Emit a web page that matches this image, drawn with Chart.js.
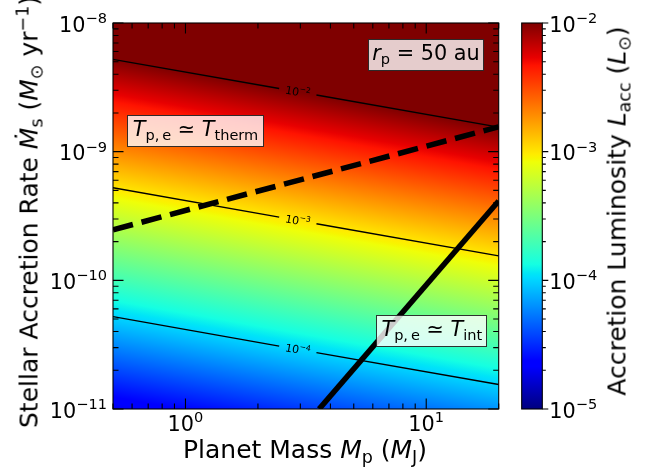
<!DOCTYPE html>
<html>
<head>
<meta charset="utf-8">
<script src="https://cdn.jsdelivr.net/npm/chart.js@4.4.1/dist/chart.umd.min.js"></script>
<style>
  body { margin: 0; background: #fff; }
  #wrap { position: relative; width: 651px; height: 470px; font-family: 'DejaVu Sans', sans-serif; }
  canvas { position: absolute; left: 0; top: 0; }
  .lab { position: absolute; white-space: nowrap; font-size: 25px; line-height: 1; color: #000; transform: translate(-50%, -50%); }
  .rot { transform: translate(-50%, -50%) rotate(-90deg); }
  .box { position: absolute; box-sizing: border-box; background: rgba(255,255,255,0.8); border: 1.3px solid rgba(0,0,0,0.8);
         font-size: 20.8px; line-height: 1; display: flex; align-items: center; justify-content: center; white-space: nowrap; color: #000; }
  .box span { display: inline-block; margin-top: -3px; }
  sub { font-size: 70%; vertical-align: -0.3em; line-height: 0; }
  sup { font-size: 70%; vertical-align: 0.5em; line-height: 0; }
</style>
</head>
<body>
<div id="wrap">
  <canvas id="chart" width="651" height="470"></canvas>
  <div class="lab rot" style="left:29px; top:212px;">Stellar Accretion Rate <i>M&#775;</i><sub>s</sub> (<i>M</i><sub>&#8857;</sub> yr<sup>&minus;1</sup>)</div>
  <div class="lab" style="left:305px; top:449px;">Planet Mass <i>M</i><sub>p</sub> (<i>M</i><sub>J</sub>)</div>
  <div class="lab rot" style="left:617px; top:211px;">Accretion Luminosity <i>L</i><sub>acc</sub> (<i>L</i><sub>&#8857;</sub>)</div>
  <div class="box" style="left:367.7px; top:39px; width:116.6px; height:32.3px;"><span><i>r</i><sub>p</sub>&nbsp;=&nbsp;50 au</span></div>
  <div class="box" style="left:126.7px; top:115px; width:137.6px; height:32px;"><span><i>T</i><sub>p,&thinsp;e</sub>&nbsp;&#8771;&nbsp;<i>T</i><sub>therm</sub></span></div>
  <div class="box" style="left:376.3px; top:315px; width:111px; height:32.3px;"><span><i>T</i><sub>p,&thinsp;e</sub>&nbsp;&#8771;&nbsp;<i>T</i><sub>int</sub></span></div>
</div>
<script>
// planet mass (M_J) where each contour line is read: left edge, label gap start, gap end, right edge
const contourMp = [0.5, 2.45, 3.5, 20];
const contourLevels = [1e-2, 1e-3, 1e-4];
// stellar accretion rate (Msun/yr) along each contour at the masses above
const contourRate = [
  [5.22e-9, 3.10e-9, 2.76e-9, 1.55e-9],
  [5.25e-10, 3.10e-10, 2.75e-10, 1.55e-10],
  [5.22e-11, 3.08e-11, 2.74e-11, 1.55e-11]
];
// T_p,e ~ T_therm (dashed) and T_p,e ~ T_int (solid)
const thermMp = [0.5, 20];
const thermRate = [2.47e-10, 1.56e-9];
const intMp = [3.59, 20];
const intRate = [1e-11, 4.14e-10];

const xMajorTicks = [1, 10];
const yMajorTicks = [1e-11, 1e-10, 1e-9, 1e-8];
const cbMajorTicks = [1e-5, 1e-4, 1e-3, 1e-2];
const xRange = [0.5, 20];
const yRange = [1e-11, 1e-8];
const cbRange = [1e-5, 1e-2];

// matplotlib jet
const jetStops = [[0,[0,0,127]],[0.11,[0,0,255]],[0.125,[0,0,255]],[0.34,[0,219,255]],[0.35,[0,229,247]],
  [0.375,[21,255,226]],[0.64,[239,255,8]],[0.65,[247,245,0]],[0.66,[255,236,0]],[0.89,[255,19,0]],
  [0.91,[232,0,0]],[1,[127,0,0]]];

const FONT = "'DejaVu Sans', sans-serif";
const cbLeft = 521.7, cbRight = 542.3;

function minorTicks(min, max) {
  const out = [];
  for (let e = Math.floor(Math.log10(min)); e <= Math.ceil(Math.log10(max)); e++) {
    for (let k = 2; k <= 9; k++) {
      const v = k * Math.pow(10, e);
      if (v >= min * 0.999 && v <= max * 1.001) out.push(v);
    }
  }
  return out;
}

function jetGradient(ctx, x0, y0, x1, y1) {
  const g = ctx.createLinearGradient(x0, y0, x1, y1);
  jetStops.forEach(([t, c]) => g.addColorStop(1 - t, `rgb(${c.join(',')})`));
  return g;
}

function expText(v) {
  const e = Math.round(Math.log10(v));
  return e < 0 ? '\u2212' + (-e) : String(e);
}

// draws "10^e" with y as the baseline of the "10"
function drawPow(ctx, v, x, y, size, align) {
  const exp = expText(v);
  const es = size * 0.7;
  ctx.font = `${size}px ${FONT}`;
  const wb = ctx.measureText('10').width;
  ctx.font = `${es}px ${FONT}`;
  const we = ctx.measureText(exp).width;
  const w = wb + we;
  const x0 = align === 'right' ? x - w : align === 'center' ? x - w / 2 : x;
  ctx.textAlign = 'left';
  ctx.textBaseline = 'alphabetic';
  ctx.fillStyle = '#000';
  ctx.font = `${size}px ${FONT}`;
  ctx.fillText('10', x0, y);
  ctx.font = `${es}px ${FONT}`;
  ctx.fillText(exp, x0 + wb, y - size * 0.42);
}

const heatmap = {
  id: 'heatmap',
  beforeDatasetsDraw(chart) {
    const {ctx, chartArea: area} = chart;
    const xs = chart.scales.x, ys = chart.scales.y;
    const n = contourRate.length - 1;
    const px = (m, r) => ({x: xs.getPixelForValue(m), y: ys.getPixelForValue(r)});
    const a = px(contourMp[0], contourRate[0][0]);
    const b = px(contourMp[3], contourRate[0][3]);
    const c = px(contourMp[0], contourRate[n][0]);
    let dx = b.x - a.x, dy = b.y - a.y;
    const len = Math.hypot(dx, dy);
    dx /= len; dy /= len;
    const nx = -dy, ny = dx;
    const h = (c.x - a.x) * nx + (c.y - a.y) * ny;
    const lvTop = Math.log10(contourLevels[0]), lvBot = Math.log10(contourLevels[n]);
    const perDec = h / (lvTop - lvBot);
    const d0 = perDec * (lvTop - Math.log10(cbRange[1]));
    const d1 = perDec * (lvTop - Math.log10(cbRange[0]));
    ctx.save();
    ctx.fillStyle = jetGradient(ctx, a.x + nx * d0, a.y + ny * d0, a.x + nx * d1, a.y + ny * d1);
    ctx.fillRect(area.left, area.top, area.right - area.left, area.bottom - area.top);
    ctx.restore();
  },
  afterDatasetsDraw(chart) {
    const {ctx, chartArea: area} = chart;
    const xs = chart.scales.x, ys = chart.scales.y, cb = chart.scales.cb;
    ctx.save();

    // contour labels
    contourLevels.forEach((lv, i) => {
      const r = contourRate[i];
      const a = {x: xs.getPixelForValue(contourMp[0]), y: ys.getPixelForValue(r[0])};
      const b = {x: xs.getPixelForValue(contourMp[3]), y: ys.getPixelForValue(r[3])};
      const cx = xs.getPixelForValue(Math.sqrt(contourMp[1] * contourMp[2]));
      const cy = ys.getPixelForValue(Math.sqrt(r[1] * r[2]));
      ctx.save();
      ctx.translate(cx, cy);
      ctx.rotate(Math.atan2(b.y - a.y, b.x - a.x));
      drawPow(ctx, lv, 0, 4, 11, 'center');
      ctx.restore();
    });

    // frame and inward ticks
    ctx.strokeStyle = '#000';
    ctx.lineWidth = 1.1;
    ctx.strokeRect(area.left, area.top, area.right - area.left, area.bottom - area.top);
    const xt = xMajorTicks.map(v => [v, 10.5]).concat(minorTicks(xRange[0], xRange[1]).map(v => [v, 5.5]));
    const yt = yMajorTicks.map(v => [v, 10.5]).concat(minorTicks(yRange[0], yRange[1]).map(v => [v, 5.5]));
    ctx.beginPath();
    xt.forEach(([v, L]) => {
      const x = xs.getPixelForValue(v);
      ctx.moveTo(x, area.bottom); ctx.lineTo(x, area.bottom - L);
      ctx.moveTo(x, area.top); ctx.lineTo(x, area.top + L);
    });
    yt.forEach(([v, L]) => {
      const y = ys.getPixelForValue(v);
      ctx.moveTo(area.left, y); ctx.lineTo(area.left + L, y);
      ctx.moveTo(area.right, y); ctx.lineTo(area.right - L, y);
    });
    ctx.stroke();

    // tick labels
    const ts = 20.8;
    xMajorTicks.forEach(v => drawPow(ctx, v, xs.getPixelForValue(v), area.bottom + 22, ts, 'center'));
    yMajorTicks.forEach(v => drawPow(ctx, v, area.left - 6, ys.getPixelForValue(v) + ts * 0.3645 + 1, ts, 'right'));

    // colorbar
    const ct = cb.getPixelForValue(cbRange[1]), cbt = cb.getPixelForValue(cbRange[0]);
    ctx.fillStyle = jetGradient(ctx, 0, ct, 0, cbt);
    ctx.fillRect(cbLeft, ct, cbRight - cbLeft, cbt - ct);
    ctx.strokeRect(cbLeft, ct, cbRight - cbLeft, cbt - ct);
    const ct2 = cbMajorTicks.map(v => [v, 6]).concat(minorTicks(cbRange[0], cbRange[1]).map(v => [v, 3.5]));
    ctx.beginPath();
    ct2.forEach(([v, L]) => {
      const y = cb.getPixelForValue(v);
      ctx.moveTo(cbRight, y); ctx.lineTo(cbRight + L, y);
    });
    ctx.stroke();
    cbMajorTicks.forEach(v => drawPow(ctx, v, cbRight + 7, cb.getPixelForValue(v) + ts * 0.3645 + 1, ts, 'left'));
    ctx.restore();
  }
};

function line(mp, rate, opts) {
  return Object.assign({
    data: mp.map((m, i) => ({x: m, y: rate[i]})),
    showLine: true, pointRadius: 0, borderColor: '#000', borderWidth: 1.4,
    xAxisID: 'x', yAxisID: 'y', clip: 0
  }, opts || {});
}

const datasets = [];
contourRate.forEach(r => {
  datasets.push(line(contourMp.slice(0, 2), r.slice(0, 2)));
  datasets.push(line(contourMp.slice(2, 4), r.slice(2, 4)));
});
datasets.push(line(thermMp, thermRate, {borderWidth: 5.56, borderDash: [20.6, 8.9], borderCapStyle: 'butt'}));
datasets.push(line(intMp, intRate, {borderWidth: 5.56}));

new Chart(document.getElementById('chart'), {
  type: 'scatter',
  data: {datasets},
  options: {
    responsive: false,
    animation: false,
    layout: {padding: {left: 113, top: 23, right: 152.3, bottom: 61}},
    plugins: {legend: {display: false}, tooltip: {enabled: false}},
    scales: {
      x: {type: 'logarithmic', min: xRange[0], max: xRange[1], display: false},
      y: {type: 'logarithmic', min: yRange[0], max: yRange[1], display: false},
      cb: {type: 'logarithmic', axis: 'y', min: cbRange[0], max: cbRange[1], display: false}
    }
  },
  plugins: [heatmap]
});
</script>
</body>
</html>
